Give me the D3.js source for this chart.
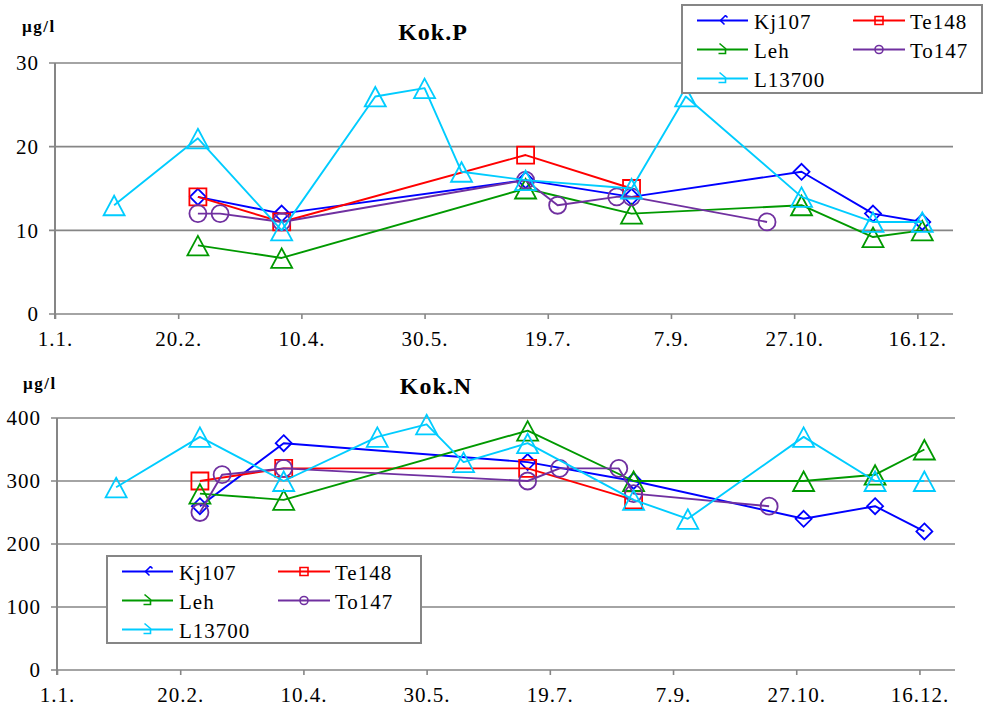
<!DOCTYPE html>
<html>
<head>
<meta charset="utf-8">
<script src="https://cdn.jsdelivr.net/npm/d3@7"></script>
<style>
  html, body { margin: 0; padding: 0; background: #fff; }
  svg { display: block; }
</style>
</head>
<body>
<svg id="chart" width="984" height="706"></svg>
<script>
// ---- data ----
const dates = ["2008-01-25","2008-02-28","2008-03-08","2008-04-02","2008-05-10","2008-05-30","2008-06-14",
  "2008-07-10","2008-07-23","2008-08-16","2008-08-22","2008-09-13","2008-10-16","2008-10-30","2008-11-28","2008-12-18"];
const seriesNames = ["Kj107","Te148","Leh","To147","L13700"];
const tickDates = ["2008-01-01","2008-02-20","2008-04-10","2008-05-30","2008-07-19","2008-09-07","2008-10-27","2008-12-16"];
const tickLabels = ["1.1.","20.2.","10.4.","30.5.","19.7.","7.9.","27.10.","16.12."];

// Kok.P (µg/l)
const pKj107  = [null,14,null,12,null,null,null,16,null,null,14,null,null,17,12,11];
const pTe148  = [null,14,null,11,null,null,null,19,null,null,15,null,null,null,null,null];
const pLeh    = [null,8.2,null,6.7,null,null,null,15,null,null,12,null,null,13,9.2,10];
const pTo147  = [null,12,12,11,null,null,null,16,13,14,14,null,11,null,null,null];
const pL13700 = [13,21,null,10,26,27,17,16,null,null,15,26,null,14,11,11];
const pTicks  = [0,10,20,30];

// Kok.N (µg/l)
const nKj107  = [null,260,null,360,null,null,null,330,null,null,300,null,null,240,260,220];
const nTe148  = [null,300,null,320,null,null,null,320,null,null,270,null,null,null,null,null];
const nLeh    = [null,280,null,270,null,null,null,380,null,null,300,null,null,300,310,350];
const nTo147  = [null,250,310,320,null,null,null,300,320,320,280,null,260,null,null,null];
const nL13700 = [290,370,null,300,370,390,330,360,null,null,270,240,null,370,300,300];
const nTicks  = [0,100,200,300,400];

// ---- styles ----
const colors = {Kj107:"#0000FF", Te148:"#FF0000", Leh:"#009900", To147:"#7030A0", L13700:"#00CCFF"};
const shapes = {Kj107:"diamond", Te148:"square", Leh:"triangle", To147:"circle", L13700:"triangle"};
const GRID = "#868686";
const FONT = "'Liberation Serif'";

const parse = d3.utcParse("%Y-%m-%d");
const svg = d3.select("#chart");

function markerPath(shape) {
  switch (shape) {
    case "diamond": return "M0,-8L8,0L0,8L-8,0Z";
    case "square": return "M-8.5,-8.5H8.5V8.5H-8.5Z";
    case "triangle": return "M0,-9.5L10.5,10L-10.5,10Z";
    case "circle": return "M8.5,0A8.5,8.5 0 1,1 -8.5,0A8.5,8.5 0 1,1 8.5,0Z";
  }
}
function legendMarker(shape, cx, cy) {
  switch (shape) {
    case "diamond": return `M${cx+3},${cy-5}L${cx-2},${cy}L${cx+2},${cy+4}M${cx+3},${cy-5}L${cx+5},${cy-3}`;
    case "square": return `M${cx-4},${cy-4}H${cx+4}V${cy+4}H${cx-4}Z`;
    case "triangle": return `M${cx-3},${cy-6}L${cx+3},${cy-1}L${cx+3},${cy+4}L${cx-4},${cy+4}`;
    case "circle": return `M${cx+4},${cy}A4,4 0 1,1 ${cx-4},${cy}A4,4 0 1,1 ${cx+4},${cy}Z`;
  }
}

function drawChart(cfg) {
  const g = svg.append("g");
  const x = d3.scaleUtc().domain([parse("2008-01-01"), parse("2008-12-31")]).range([cfg.left, cfg.right]);
  const y = d3.scaleLinear().domain([0, cfg.ymax]).range([cfg.bottom, cfg.top]);

  // gridlines + y axis
  const yAxis = g.append("g").attr("transform", `translate(${cfg.left},0)`)
    .call(d3.axisLeft(y).tickValues(cfg.ticks).tickSize(0).tickPadding(16).tickFormat(d3.format("d")));
  yAxis.select(".domain").remove();
  yAxis.selectAll("text").attr("font-size", 21).attr("letter-spacing", 1).attr("fill", "#000")
    .style("font-family", FONT).attr("dy", "0.33em");
  g.append("g").selectAll("line").data(cfg.ticks).join("line")
    .attr("x1", cfg.left - 6).attr("x2", cfg.gridRight)
    .attr("y1", d => y(d)).attr("y2", d => y(d))
    .attr("stroke", GRID).attr("stroke-width", 1.6);
  g.append("line").attr("x1", cfg.left).attr("x2", cfg.left).attr("y1", cfg.top).attr("y2", cfg.bottom + 5)
    .attr("stroke", GRID).attr("stroke-width", 2);

  // x axis
  const xAxis = g.append("g").attr("transform", `translate(0,${cfg.bottom})`)
    .call(d3.axisBottom(x).tickValues(tickDates.map(parse)).tickSize(5).tickPadding(12)
      .tickFormat((d, i) => tickLabels[i]));
  xAxis.select(".domain").remove();
  xAxis.selectAll("line").attr("stroke", GRID).attr("stroke-width", 1.6);
  xAxis.selectAll("text").attr("font-size", 21).attr("letter-spacing", 1).attr("fill", "#000")
    .style("font-family", FONT);

  // series
  const line = d3.line().x(d => x(d.date)).y(d => y(d.v));
  seriesNames.forEach(name => {
    const pts = cfg.data[name].map((v, i) => ({date: parse(dates[i]), v})).filter(d => d.v != null);
    g.append("path").datum(pts).attr("d", line).attr("fill", "none")
      .attr("stroke", colors[name]).attr("stroke-width", 1.9).attr("stroke-linejoin", "round");
    g.append("g").selectAll("path").data(pts).join("path")
      .attr("transform", d => `translate(${x(d.date)},${y(d.v)})`)
      .attr("d", markerPath(shapes[name]))
      .attr("fill", "none").attr("stroke", colors[name]).attr("stroke-width", 1.8);
  });

  // titles
  g.append("text").attr("x", cfg.titleX).attr("y", cfg.titleY).attr("text-anchor", "middle")
    .attr("font-size", 24).attr("font-weight", "bold").attr("letter-spacing", 1)
    .style("font-family", FONT).text(cfg.title);
  g.append("text").attr("x", cfg.unitX).attr("y", cfg.unitY)
    .attr("font-size", 17).attr("font-weight", "bold").attr("letter-spacing", 1.5)
    .style("font-family", FONT).text("µg/l");

  // legend
  const L = cfg.legend;
  const lg = g.append("g").attr("transform", `translate(${L.x},${L.y})`);
  lg.append("rect").attr("width", L.w).attr("height", L.h).attr("fill", "#fff")
    .attr("stroke", GRID).attr("stroke-width", 2);
  const pos = [[0,0],[1,0],[0,1],[1,1],[0,2]];
  seriesNames.forEach((name, i) => {
    const [c, r] = pos[i];
    const x1 = c ? 171 : 15, x2 = c ? 223 : 66, tx = c ? 228 : 72;
    const cy = 15.5 + r * 29;
    lg.append("line").attr("x1", x1).attr("x2", x2).attr("y1", cy).attr("y2", cy)
      .attr("stroke", colors[name]).attr("stroke-width", 1.8);
    lg.append("path").attr("d", legendMarker(shapes[name], (x1 + x2) / 2, cy))
      .attr("fill", "none").attr("stroke", colors[name]).attr("stroke-width", 1.6);
    lg.append("text").attr("x", tx).attr("y", cy + 8).attr("font-size", 21).attr("letter-spacing", 1)
      .style("font-family", FONT).text(name);
  });
}

drawChart({
  left: 55, right: 954.3, gridRight: 953, top: 63, bottom: 314, ymax: 30, ticks: pTicks,
  data: {Kj107: pKj107, Te148: pTe148, Leh: pLeh, To147: pTo147, L13700: pL13700},
  title: "Kok.P", titleX: 433, titleY: 39.5, unitX: 22, unitY: 32,
  legend: {x: 682, y: 5, w: 300, h: 88}
});
drawChart({
  left: 57, right: 956.4, gridRight: 955, top: 418, bottom: 670, ymax: 400, ticks: nTicks,
  data: {Kj107: nKj107, Te148: nTe148, Leh: nLeh, To147: nTo147, L13700: nL13700},
  title: "Kok.N", titleX: 436, titleY: 394, unitX: 23, unitY: 389,
  legend: {x: 107, y: 556, w: 314, h: 87}
});
</script>
</body>
</html>
